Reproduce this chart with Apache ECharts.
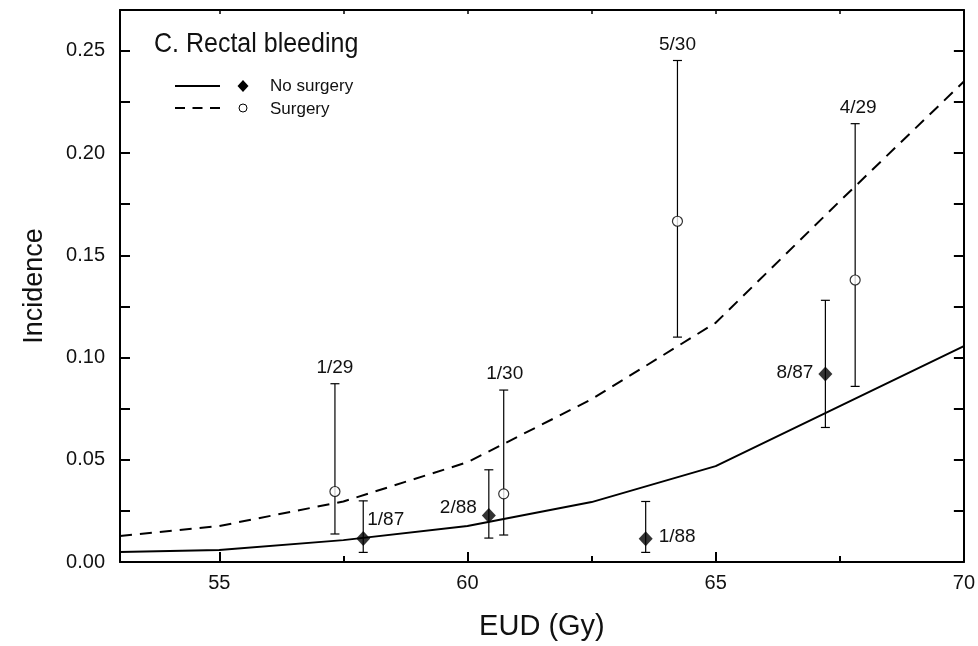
<!DOCTYPE html>
<html>
<head>
<meta charset="utf-8">
<script src="https://cdn.jsdelivr.net/npm/echarts@6/dist/echarts.min.js"></script>
<style>
  html, body { margin: 0; padding: 0; background: #ffffff; overflow: hidden; }
  #chart { width: 978px; height: 646px; }
</style>
</head>
<body>
<div id="chart"></div>
<script>
// Model curves (EUD in Gy vs predicted incidence)
const curveX = [53, 55, 57.5, 60, 62.5, 65, 67.5, 70];
const noSurgeryCurve = [0.0049, 0.0059, 0.0107, 0.0176, 0.0293, 0.0469, 0.0762, 0.1056];
const surgeryCurve = [0.0127, 0.0176, 0.0296, 0.0488, 0.0796, 0.1170, 0.1765, 0.2350];

// Observed incidence with confidence intervals
const noSurgeryX = [57.9, 60.43, 63.59, 67.21];
const noSurgeryY = [1 / 87, 2 / 88, 1 / 88, 8 / 87];
const noSurgeryLow = [0.0047, 0.0117, 0.0047, 0.0658];
const noSurgeryHigh = [0.0299, 0.0451, 0.0296, 0.1280];
const noSurgeryText = ['1/87', '2/88', '1/88', '8/87'];

const surgeryX = [57.33, 60.73, 64.23, 67.81];
const surgeryY = [1 / 29, 1 / 30, 5 / 30, 4 / 29];
const surgeryLow = [0.0137, 0.0132, 0.1100, 0.0859];
const surgeryHigh = [0.0872, 0.0841, 0.2453, 0.2144];
const surgeryText = ['1/29', '1/30', '5/30', '4/29'];

// Axis ticks
const xLabelTicks = [55, 60, 65, 70];
const xMinorTicks = [57.5, 62.5, 67.5];
const yLabelTicks = [0, 0.05, 0.10, 0.15, 0.20, 0.25];
const yAllTicks = [0.025, 0.05, 0.075, 0.10, 0.125, 0.15, 0.175, 0.20, 0.225, 0.25];

const FONT = '"Liberation Sans", Arial, Helvetica, sans-serif';
const chart = echarts.init(document.getElementById('chart'), null, { renderer: 'canvas', width: 978, height: 646 });

// Where each count label sits relative to its point / upper bar end
const noSurgeryPlacement = [
  { ref: 'point', dx: 4, dy: -19, align: 'left' },
  { ref: 'point', dx: -12, dy: -8, align: 'right' },
  { ref: 'point', dx: 13, dy: -2, align: 'left' },
  { ref: 'point', dx: -12, dy: -1, align: 'right' }
];
const surgeryPlacement = [
  { ref: 'high', dx: 0, dy: -16, align: 'center' },
  { ref: 'high', dx: 1, dy: -16, align: 'center' },
  { ref: 'high', dx: 0, dy: -16, align: 'center' },
  { ref: 'high', dx: 3, dy: -16, align: 'center' }
];

function errorBars(xs, lows, highs) {
  return {
    type: 'custom',
    silent: true,
    z: 3,
    data: xs.map((x, i) => [x, lows[i], highs[i]]),
    encode: { x: 0, y: [1, 2] },
    renderItem(params, api) {
      const lo = api.coord([api.value(0), api.value(1)]);
      const hi = api.coord([api.value(0), api.value(2)]);
      const w = 4.5;
      const style = { stroke: '#000', lineWidth: 1.2 };
      return {
        type: 'group',
        children: [
          { type: 'line', shape: { x1: lo[0], y1: lo[1], x2: hi[0], y2: hi[1] }, style },
          { type: 'line', shape: { x1: lo[0] - w, y1: lo[1], x2: lo[0] + w, y2: lo[1] }, style },
          { type: 'line', shape: { x1: hi[0] - w, y1: hi[1], x2: hi[0] + w, y2: hi[1] }, style }
        ]
      };
    }
  };
}

function countLabels(xs, ys, highs, texts, placement) {
  return {
    type: 'custom',
    silent: true,
    z: 6,
    data: xs.map((x, i) => [x, ys[i], highs[i]]),
    encode: { x: 0, y: [1, 2] },
    renderItem(params, api) {
      const i = params.dataIndex;
      const p = placement[i];
      const anchor = api.coord([api.value(0), p.ref === 'high' ? api.value(2) : api.value(1)]);
      return {
        type: 'text',
        style: {
          x: anchor[0] + p.dx,
          y: anchor[1] + p.dy,
          text: texts[i],
          fill: '#111',
          font: '19px ' + FONT,
          align: p.align,
          verticalAlign: 'middle'
        }
      };
    }
  };
}

const axisLineStyle = { color: '#000', width: 2 };

chart.setOption({
  animation: false,
  backgroundColor: '#ffffff',
  grid: { left: 120, right: 5, top: 10, bottom: 83, containLabel: false },
  xAxis: [
    {
      type: 'value', position: 'bottom', min: 53, max: 70,
      name: 'EUD (Gy)', nameLocation: 'middle', nameGap: 50,
      nameTextStyle: { fontFamily: FONT, fontSize: 29, color: '#111' },
      axisLine: { onZero: false, lineStyle: axisLineStyle },
      axisTick: { inside: true, length: 10, customValues: xLabelTicks, lineStyle: { color: '#000', width: 2 } },
      axisLabel: { customValues: xLabelTicks, margin: 11, fontFamily: FONT, fontSize: 20, color: '#111' },
      splitLine: { show: false }
    },
    {
      type: 'value', position: 'bottom', min: 53, max: 70,
      axisLine: { show: false },
      axisTick: { inside: true, length: 6, customValues: xMinorTicks, lineStyle: { color: '#000', width: 2 } },
      axisLabel: { show: false },
      splitLine: { show: false }
    },
    {
      type: 'value', position: 'top', min: 53, max: 70,
      axisLine: { onZero: false, lineStyle: axisLineStyle },
      axisTick: { inside: true, length: 4, customValues: xLabelTicks.concat(xMinorTicks), lineStyle: { color: '#000', width: 1.5 } },
      axisLabel: { show: false },
      splitLine: { show: false }
    }
  ],
  yAxis: [
    {
      type: 'value', position: 'left', min: 0, max: 0.27,
      name: 'Incidence', nameLocation: 'middle', nameGap: 72,
      nameTextStyle: { fontFamily: FONT, fontSize: 27, color: '#111' },
      axisLine: { onZero: false, lineStyle: axisLineStyle },
      axisTick: { inside: true, length: 10, customValues: yAllTicks, lineStyle: { color: '#000', width: 2 } },
      axisLabel: {
        customValues: yLabelTicks, margin: 15, fontFamily: FONT, fontSize: 20, color: '#111',
        formatter: v => Number(v).toFixed(2)
      },
      splitLine: { show: false }
    },
    {
      type: 'value', position: 'right', min: 0, max: 0.27,
      axisLine: { onZero: false, lineStyle: axisLineStyle },
      axisTick: { inside: true, length: 10, customValues: yAllTicks, lineStyle: { color: '#000', width: 2 } },
      axisLabel: { show: false },
      splitLine: { show: false }
    }
  ],
  graphic: [
    {
      type: 'text', left: 154, top: 31,
      style: { text: 'C. Rectal bleeding', font: '25px ' + FONT, fill: '#111' },
      scaleY: 1.1
    },
    { type: 'line', shape: { x1: 175, y1: 86, x2: 220, y2: 86 }, style: { stroke: '#000', lineWidth: 2 } },
    { type: 'polygon', shape: { points: [[243, 80], [248.5, 86], [243, 92], [237.5, 86]] }, style: { fill: '#000' } },
    { type: 'text', x: 270, y: 86, style: { text: 'No surgery', font: '17px ' + FONT, fill: '#111', verticalAlign: 'middle' } },
    { type: 'line', shape: { x1: 175, y1: 108, x2: 220, y2: 108 }, style: { stroke: '#000', lineWidth: 2, lineDash: [10, 7.5] } },
    { type: 'circle', shape: { cx: 243, cy: 108, r: 4 }, style: { fill: '#fff', stroke: '#000', lineWidth: 1 } },
    { type: 'text', x: 270, y: 109, style: { text: 'Surgery', font: '17px ' + FONT, fill: '#111', verticalAlign: 'middle' } }
  ],
  series: [
    {
      name: 'No surgery model', type: 'line', z: 2,
      data: curveX.map((x, i) => [x, noSurgeryCurve[i]]),
      showSymbol: false, lineStyle: { color: '#000', width: 2 }
    },
    {
      name: 'Surgery model', type: 'line', z: 2,
      data: curveX.map((x, i) => [x, surgeryCurve[i]]),
      showSymbol: false, lineStyle: { color: '#000', width: 2, type: [12, 8] }
    },
    errorBars(noSurgeryX, noSurgeryLow, noSurgeryHigh),
    errorBars(surgeryX, surgeryLow, surgeryHigh),
    {
      name: 'No surgery', type: 'scatter', z: 5,
      data: noSurgeryX.map((x, i) => [x, noSurgeryY[i]]),
      symbol: 'diamond', symbolSize: [14, 15],
      itemStyle: { color: '#000' }
    },
    {
      name: 'Surgery', type: 'scatter', z: 5,
      data: surgeryX.map((x, i) => [x, surgeryY[i]]),
      symbol: 'circle', symbolSize: 10,
      itemStyle: { color: '#fff', borderColor: '#000', borderWidth: 1.2 }
    },
    countLabels(noSurgeryX, noSurgeryY, noSurgeryHigh, noSurgeryText, noSurgeryPlacement),
    countLabels(surgeryX, surgeryY, surgeryHigh, surgeryText, surgeryPlacement)
  ]
});
</script>
</body>
</html>
